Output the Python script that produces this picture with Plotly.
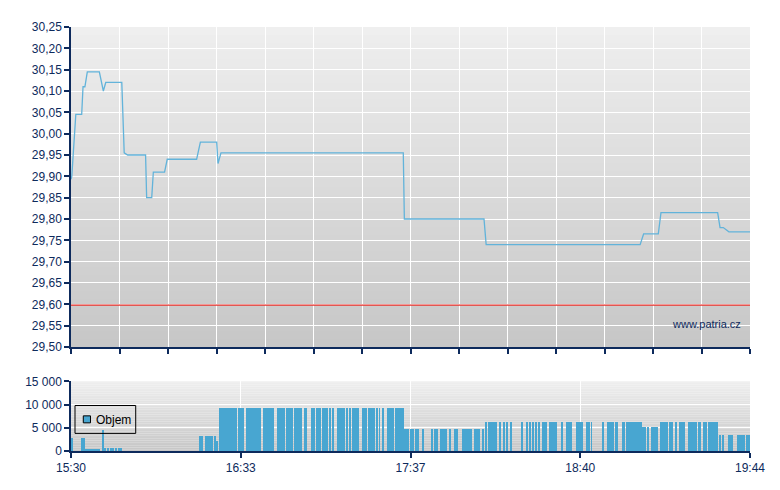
"""Intraday price + volume chart (patria.cz style)."""

import plotly.graph_objects as go

# x values are minutes since 15:30
SESSION_MIN = 254
X_LABELS = ["15:30", "16:33", "17:37", "18:40", "19:44"]

PREV_CLOSE = 29.598

PRICE_T = [0.0, 0.3, 1.8, 4.0, 4.5, 5.2, 6.1, 10.6, 12.1, 13.0, 19.0, 19.9, 21.2,
           27.9, 28.3, 30.2, 30.8, 35.0, 36.0, 47.0, 48.4, 54.5, 55.0, 56.1,
           124.3, 124.7, 154.5, 155.3, 212.9, 214.2, 219.7, 220.7, 241.9, 242.8,
           244.0, 246.1, 254.0]
PRICE_V = [29.893, 29.90, 30.045, 30.045, 30.11, 30.11, 30.145, 30.145, 30.10, 30.12,
           30.12, 29.955, 29.95, 29.95, 29.85, 29.85, 29.91, 29.91, 29.94, 29.94,
           29.98, 29.98, 29.93, 29.955, 29.955, 29.80, 29.80, 29.74, 29.74, 29.765,
           29.765, 29.815, 29.815, 29.78, 29.78, 29.77, 29.77]

VOL_T = [
    0.4, 4.1, 4.9,
    5.6, 6.4, 7.1, 7.9, 8.6, 9.4, 10.1, 10.6,
    12.0,
    12.7, 13.8, 15.0, 15.7, 16.8, 18.0, 18.7,
    48.3, 49.0, 50.5, 51.2, 52.0, 52.7, 53.9, 54.6,
    55.7, 56.5, 57.2, 58.0, 58.7, 59.5, 60.2, 61.0, 61.7, 62.8, 63.6, 64.3,
    65.9, 66.6, 67.3, 67.9, 68.6, 69.2, 69.8, 70.7, 72.2, 72.7, 73.4, 74.0,
    74.8, 75.5, 77.4, 78.0, 78.5, 79.2, 79.7, 80.7, 81.2, 81.7, 82.3, 82.8,
    83.7, 84.2, 84.8, 85.3, 85.9, 87.4, 87.9, 90.0, 90.9, 91.9, 92.9, 93.3,
    94.1, 94.6, 94.9, 95.9, 96.9, 98.0, 100.0, 100.6, 101.1, 101.5, 102.2, 103.4,
    104.3, 105.4, 106.2, 106.8, 107.3, 109.4, 110.0, 110.5, 111.5, 112.4, 112.9,
    113.4, 114.3, 115.4, 116.7, 118.4, 119.0, 119.5, 120.1, 120.5, 121.6, 122.1,
    122.6, 123.4, 124.2,
    124.7, 125.3, 126.2, 127.3, 127.9, 129.2, 129.8, 131.8, 135.0, 136.1, 136.9,
    138.4, 139.3, 139.9, 140.4, 141.9, 143.6, 144.4, 146.8, 147.4, 148.2, 149.0,
    149.6, 151.2, 152.0, 152.7, 154.1,
    155.2, 156.2, 156.7, 157.3, 157.8, 158.4, 159.0, 160.4, 162.1, 163.1, 164.6,
    168.7, 170.7, 171.7, 172.8, 173.8, 174.9, 176.7, 177.3, 177.8, 179.1, 180.1,
    180.6, 181.4, 183.7, 185.6, 186.4, 187.1, 189.2, 190.2, 190.7, 191.3, 193.0,
    193.7, 194.7, 199.0, 200.7, 201.2, 202.0, 202.7, 203.7, 204.1, 206.3, 206.8,
    207.8, 208.2, 208.8, 209.6, 210.2, 210.8, 211.3, 211.9, 212.6, 213.1,
    213.9, 214.7, 215.8, 217.5, 218.0, 218.7, 219.2,
    220.8, 221.4, 222.3, 222.9, 224.2, 224.8, 226.4, 227.8, 228.5, 229.3, 231.1,
    232.1, 232.5, 233.3, 233.8, 234.8, 235.2, 236.6, 237.1, 237.5, 238.6, 239.4,
    240.1, 240.9, 241.6,
    242.7, 243.9, 246.3, 246.8, 247.4, 249.5, 250.4, 251.0, 251.7, 253.0, 253.6,
]
VOL_V = [
    2800, 2800, 2800,
    400, 400, 400, 400, 400, 400, 400, 400,
    4500,
    600, 600, 600, 600, 600, 600, 600,
    3200, 3200, 3200, 3200, 3200, 3200, 3200, 2100,
    9200, 9200, 9200, 9200, 9200, 9200, 9200, 9200, 9200, 9200, 9200, 9200,
    9200, 9200, 9200, 9200, 9200, 9200, 9200, 9200, 9200, 9200, 9200, 9200,
    9200, 9200, 9200, 9200, 9200, 9200, 9200, 9200, 9200, 9200, 9200, 9200,
    9200, 9200, 9200, 9200, 9200, 9200, 9200, 9200, 9200, 9200, 9200, 9200,
    9200, 9200, 9200, 9200, 9200, 9200, 9200, 9200, 9200, 9200, 9200, 9200,
    9200, 9200, 9200, 9200, 9200, 9200, 9200, 9200, 9200, 9200, 9200,
    9200, 9200, 9200, 9200, 9200, 9200, 9200, 9200, 9200, 9200, 9200,
    9200, 9200, 9200,
    4700, 4700, 4700, 4700, 4700, 4700, 4700, 4700, 4700, 4700, 4700,
    4700, 4700, 4700, 4700, 4700, 4700, 4700, 4700, 4700, 4700, 4700,
    4700, 4700, 4700, 4700, 4700,
    6200, 6200, 6200, 6200, 6200, 6200, 6200, 6200, 6200, 6200, 6200,
    6200, 6200, 6200, 6200, 6200, 6200, 6200, 6200, 6200, 6200, 6200,
    6200, 6200, 6200, 6200, 6200, 6200, 6200, 6200, 6200, 6200, 6200,
    6200, 6200, 6200, 6200, 6200, 6200, 6200, 6200, 6200, 6200, 6200,
    6200, 6200, 6200, 6200, 6200, 6200, 6200, 6200, 6200, 6200,
    5000, 5000, 5000, 5000, 5000, 5000, 5000,
    6200, 6200, 6200, 6200, 6200, 6200, 6200, 6200, 6200, 6200, 6200,
    6200, 6200, 6200, 6200, 6200, 6200, 6200, 6200, 6200, 6200, 6200,
    6200, 6200, 6200,
    3300, 3300, 3300, 3300, 3300, 3300, 3300, 3300, 3300, 3300, 3300,
]

NAVY = "#0d2a5c"
LINE_BLUE = "#62b3da"
BAR_BLUE = "#48a6d1"

fig = go.Figure()

# gray gradient backgrounds (light at top, darker at bottom)
steps = 40
for ax in ("", "2"):
    for i in range(steps):
        frac = i / (steps - 1)
        g = int(199 + (239 - 199) * frac)
        fig.add_shape(
            type="rect", xref=f"x{ax} domain", yref=f"y{ax} domain",
            x0=0, x1=1, y0=i / steps, y1=(i + 1) / steps,
            fillcolor=f"rgb({g},{g},{g})", line_width=0, layer="below",
        )

fig.add_trace(go.Scatter(
    x=[0, SESSION_MIN], y=[PREV_CLOSE, PREV_CLOSE], mode="lines",
    line=dict(color="#e8302a", width=1.2), showlegend=False, hoverinfo="skip",
))
fig.add_trace(go.Scatter(
    x=PRICE_T, y=PRICE_V, mode="lines",
    line=dict(color=LINE_BLUE, width=1.3), showlegend=False,
))
fig.add_trace(go.Bar(
    x=VOL_T, y=VOL_V, width=0.36, marker=dict(color=BAR_BLUE, line_width=0),
    xaxis="x2", yaxis="y2", showlegend=False,
))

# legend box drawn by hand (plotly's legend is too wide)
fig.add_shape(type="rect", xref="paper", yref="paper",
              x0=0.0059, x1=0.0953, y0=0.0415, y1=0.1073,
              line=dict(color="black", width=1), fillcolor="rgba(0,0,0,0)")
fig.add_shape(type="rect", xref="paper", yref="paper",
              x0=0.0181, x1=0.0287, y0=0.0664, y1=0.0829,
              line=dict(color="black", width=1), fillcolor=BAR_BLUE)
fig.add_annotation(text="Objem", xref="paper", yref="paper", x=0.0335, y=0.0735,
                   xanchor="left", yanchor="middle", showarrow=False,
                   font=dict(size=12, color="black"))

fig.add_annotation(
    text="www.patria.cz", xref="x domain", yref="y domain", x=0.99, y=0.072,
    xanchor="right", yanchor="middle", showarrow=False,
    font=dict(size=11, color=NAVY),
)

top_ticks = [i * SESSION_MIN / 14 for i in range(15)]
bottom_ticks = [i * SESSION_MIN / 4 for i in range(5)]

axis_common = dict(
    showline=True, linecolor=NAVY, linewidth=1.5, ticks="outside",
    tickcolor=NAVY, ticklen=5, tickwidth=1.5, gridcolor="white", gridwidth=1.2,
    zeroline=False, tickfont=dict(size=12, color=NAVY),
)

fig.update_layout(
    width=772, height=482,
    margin=dict(l=63, r=30, t=17, b=39),
    paper_bgcolor="white", plot_bgcolor="rgba(0,0,0,0)",
    font=dict(family="Liberation Sans, Arial, sans-serif", size=12, color=NAVY),
    separators=", ",
    showlegend=False,
    xaxis=dict(axis_common, domain=[0, 1], range=[0, SESSION_MIN], tickvals=top_ticks,
               showticklabels=False, anchor="y"),
    yaxis=dict(axis_common, domain=[0.2453, 1], range=[29.5, 30.25], dtick=0.05,
               tickformat=".2f", anchor="x"),
    xaxis2=dict(axis_common, domain=[0, 1], range=[0, SESSION_MIN], tickvals=bottom_ticks,
                ticktext=X_LABELS, anchor="y2"),
    yaxis2=dict(axis_common, domain=[0, 0.1643], range=[0, 15000],
                tickvals=[0, 5000, 10000, 15000], tickformat=",", anchor="x2"),
    bargap=0,
)

fig.write_html("out.html")
